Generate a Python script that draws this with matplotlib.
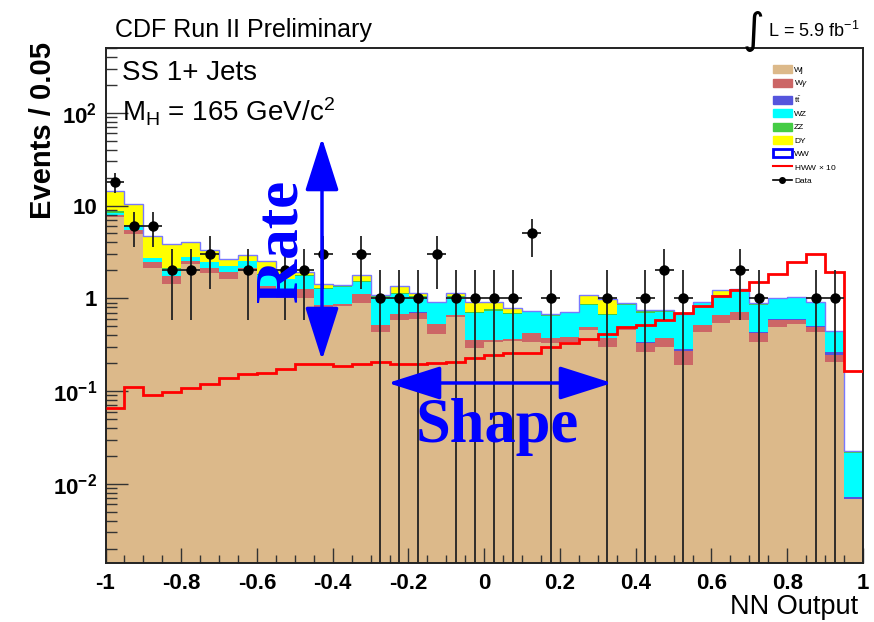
import numpy as np
import matplotlib
matplotlib.use('Agg')
import matplotlib.pyplot as plt
from matplotlib.patches import Patch
from matplotlib.lines import Line2D
from matplotlib.ticker import FixedLocator, FixedFormatter, MultipleLocator

plt.rcParams['font.family'] = ['Liberation Sans', 'DejaVu Sans']
plt.rcParams['mathtext.fontset'] = 'custom'
plt.rcParams['mathtext.rm'] = 'Liberation Sans'
plt.rcParams['mathtext.it'] = 'Liberation Sans:italic'
plt.rcParams['mathtext.bf'] = 'Liberation Sans:bold'

# NN output bins: 40 bins of 0.05 from -1 to 1
edges = np.linspace(-1, 1, 41)

# background expectations per bin (stacked bottom -> top)
wj = [7.54, 4.97, 2.14, 1.41, 2.32, 1.89, 1.60, 2.0, 1.15, 1.0,
      1.0, 0.68, 0.82, 0.88, 0.435, 0.58, 0.60, 0.41, 0.63, 0.29,
      0.34, 0.345, 0.34, 0.33, 0.34, 0.45, 0.30, 0.45, 0.265, 0.30,
      0.19, 0.43, 0.54, 0.59, 0.34, 0.49, 0.53, 0.43, 0.206, 0.0069]
wgamma = [0.46, 0.53, 0.31, 0.31, 0.20, 0.25, 0.32, 0.14, 0.20, 0.20,
          0.27, 0.16, 0.04, 0.22, 0.075, 0.09, 0.10, 0.12, 0.03, 0.064,
          0.014, 0.015, 0.08, 0.04, 0.04, 0.04, 0.07, 0.04, 0.065, 0.07,
          0.08, 0.08, 0.12, 0.12, 0.08, 0.10, 0.05, 0.06, 0.039, 0.0]
ttbar = [0.01, 0.01, 0.005, 0.005, 0.005, 0.005, 0.005, 0.005, 0.005, 0.005,
         0.005, 0.004, 0.004, 0.004, 0.004, 0.004, 0.004, 0.004, 0.004, 0.004,
         0.004, 0.004, 0.004, 0.004, 0.004, 0.004, 0.004, 0.004, 0.004, 0.005,
         0.015, 0.006, 0.006, 0.006, 0.01, 0.006, 0.012, 0.012, 0.02, 0.0003]
wz = [0.4, 0.5, 0.26, 0.37, 0.26, 0.32, 0.29, 0.36, 0.45, 0.40,
      0.48, 0.43, 0.47, 0.40, 0.49, 0.45, 0.33, 0.35, 0.37, 0.33,
      0.38, 0.31, 0.28, 0.27, 0.31, 0.35, 0.29, 0.36, 0.36, 0.33,
      0.37, 0.37, 0.39, 0.49, 0.42, 0.39, 0.42, 0.38, 0.17, 0.0141]
zz = [0.3, 0.1, 0.02, 0.02, 0.02, 0.02, 0.02, 0.02, 0.02, 0.02,
      0.02, 0.02, 0.02, 0.02, 0.05, 0.02, 0.02, 0.03, 0.02, 0.02,
      0.02, 0.02, 0.03, 0.02, 0.02, 0.02, 0.02, 0.03, 0.03, 0.03,
      0.03, 0.03, 0.03, 0.02, 0.02, 0.02, 0.02, 0.02, 0.01, 0.0015]
dy = [5.6, 4.3, 2.0, 1.75, 1.22, 0.80, 0.40, 0.43, 0.68, 0.38,
      0.13, 0.15, 0.04, 0.25, 0.02, 0.21, 0.10, 0.0, 0.10, 0.21,
      0.15, 0.09, 0.0, 0.02, 0.0, 0.22, 0.30, 0.0, 0.02, 0.01,
      0.0, 0.0, 0.14, 0.03, 0.01, 0.0, 0.0, 0.0, 0.0, 0.0]

# signal, Higgs -> WW (m_H = 165) scaled x10
hww10 = [0.066, 0.111, 0.091, 0.097, 0.107, 0.119, 0.137, 0.151, 0.155, 0.171,
         0.198, 0.195, 0.186, 0.195, 0.205, 0.197, 0.197, 0.200, 0.205, 0.225,
         0.245, 0.26, 0.26, 0.295, 0.33, 0.36, 0.41, 0.49, 0.51, 0.585,
         0.70, 0.82, 1.05, 1.22, 1.5, 1.84, 2.46, 3.02, 1.92, 0.166]

# observed events
data = [18, 6, 6, 2, 2, 3, 0, 2, 0, 2,
        2, 3, 0, 3, 1, 1, 1, 3, 1, 1,
        1, 1, 5, 1, 0, 0, 1, 0, 1, 2,
        1, 0, 0, 2, 1, 0, 0, 1, 1, 0]

fig = plt.figure(figsize=(8.74, 6.22), dpi=100)
ax = fig.add_axes([105.5 / 874, 59 / 622, 757.5 / 874, 515 / 622])
ax.set_yscale('log')
ax.set_xlim(-1, 1)
ax.set_ylim(1.4e-3, 500)

layers = [(wj, '#dcb98a', 'Wj'),
          (wgamma, '#cc6666', r'W$\gamma$'),
          (ttbar, '#5555dd', r't$\bar{\mathrm{t}}$'),
          (wz, '#00ffff', 'WZ'),
          (zz, '#44cc44', 'ZZ'),
          (dy, '#ffff00', 'DY')]

bottom = np.full(len(wj), 1e-6)
for vals, col, lab in layers:
    top = bottom + np.array(vals)
    ax.stairs(top, edges, baseline=bottom, fill=True, color=col, lw=0, zorder=1)
    bottom = top

# WW outline on top of the stack
ax.stairs(bottom, edges, baseline=None, color='#7878ff', lw=1.0, zorder=1.2)

# signal x10
ax.stairs(hww10, edges, baseline=None, color='#ff0000', lw=2.0, zorder=3)

# data points with Poisson errors
centers = 0.5 * (edges[:-1] + edges[1:])
d = np.array(data, dtype=float)
m = d > 0
err = np.sqrt(d[m])
lo = np.minimum(err, d[m] - 1e-6)
ax.errorbar(centers[m], d[m], xerr=0.025, yerr=[lo, err], fmt='o',
            color='black', ecolor='#222222', elinewidth=1.3, capsize=0,
            markersize=6.5, zorder=4)

# axes styling
ax.xaxis.set_minor_locator(MultipleLocator(0.05))
xt = np.arange(-1, 1.01, 0.2)
ax.set_xticks(xt)
ax.set_xticklabels(['%g' % round(v, 1) if abs(v) > 1e-9 else '0' for v in xt])
ax.yaxis.set_major_locator(FixedLocator([1e-2, 1e-1, 1, 10, 100]))
ax.yaxis.set_major_formatter(FixedFormatter([r'$\mathbf{10^{-2}}$', r'$\mathbf{10^{-1}}$',
                                             '1', '10', r'$\mathbf{10^{2}}$']))
ax.tick_params(which='both', direction='in', top=False, right=False,
               width=1.0, color='#333333')
ax.tick_params(axis='x', which='major', length=11, pad=7, labelsize=16)
ax.tick_params(axis='x', which='minor', length=5.5)
ax.tick_params(axis='y', which='major', length=16, pad=6, labelsize=16)
ax.tick_params(axis='y', which='minor', length=8)
for lab in ax.get_xticklabels() + ax.get_yticklabels():
    lab.set_fontweight('bold')
for s in ax.spines.values():
    s.set_linewidth(1.4)
    s.set_color('#222222')

# legend
handles = [Patch(facecolor=c, edgecolor=c) for _, c, _ in layers]
labels = [l for _, _, l in layers]
handles += [Patch(facecolor='white', edgecolor='#0000ff', lw=2),
            Line2D([], [], color='#ff0000', lw=1.5),
            Line2D([], [], color='black', marker='o', markersize=4, lw=1.2)]
labels += ['WW', r'HWW $\times$ 10', 'Data']
ax.legend(handles, labels, loc='upper left', bbox_to_anchor=(0.876, 0.975),
          frameon=False, fontsize=6, handlelength=2.2, handleheight=1.1,
          labelspacing=0.55, borderpad=0, handletextpad=0.3)

# text
fig.text(115 / 874, 1 - 30 / 622, 'CDF Run II Preliminary', fontsize=18,
         ha='left', va='center')
fig.text(753 / 874, 1 - 31 / 622, '\u222b', fontsize=30, family='DejaVu Sans',
         ha='center', va='center')
fig.text(768 / 874, 1 - 31 / 622, r'L = 5.9 fb$^{-1}$', fontsize=13,
         ha='left', va='center')
fig.text(122 / 874, 1 - 73 / 622, 'SS 1+ Jets', fontsize=20, ha='left', va='center')
fig.text(122 / 874, 1 - 112 / 622, r'M$_{\mathrm{H}}$ = 165 GeV/c$^{2}$', fontsize=20,
         ha='left', va='center')
fig.text(43 / 874, 1 - 42 / 622, 'Events / 0.05', fontsize=21, fontweight='bold',
         rotation=90, ha='center', va='top')
fig.text(858 / 874, 1 - 607 / 622, 'NN Output', fontsize=19.5, ha='right', va='center')

# rate / shape arrows
arrow = dict(arrowstyle='<|-|>,head_length=3.3,head_width=1.05', color='#0000ff',
             lw=2.5, shrinkA=0, shrinkB=0, mutation_scale=10)
ax.annotate('', xy=(322 / 874, 1 - 138 / 622), xytext=(322 / 874, 1 - 360 / 622),
            xycoords='figure fraction', arrowprops=arrow, zorder=5)
ax.annotate('', xy=(388 / 874, 1 - 383 / 622), xytext=(612 / 874, 1 - 383 / 622),
            xycoords='figure fraction', arrowprops=arrow, zorder=5)
fig.text(282 / 874, 1 - 241 / 622, 'Rate', fontsize=44, fontweight='bold',
         family='Liberation Serif', color='#0000ff', rotation=90,
         ha='center', va='center', zorder=6)
fig.text(497 / 874, 1 - 427 / 622, 'Shape', fontsize=45, fontweight='bold',
         family='Liberation Serif', color='#0000ff', ha='center', va='center', zorder=6)

fig.savefig('out.png', dpi=100)
